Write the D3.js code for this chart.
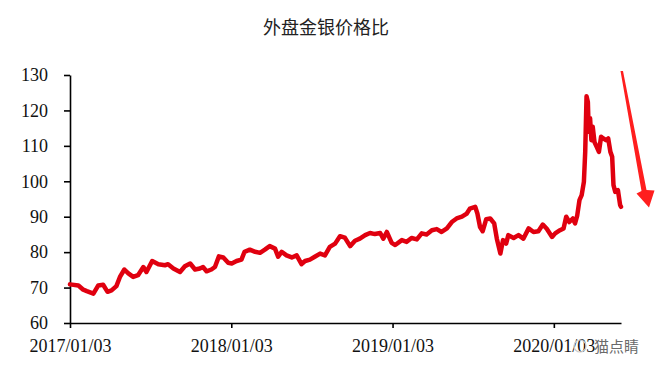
<!DOCTYPE html>
<html>
<head>
<meta charset="utf-8">
<script src="https://cdn.jsdelivr.net/npm/d3@7/dist/d3.min.js"></script>
<style>
  body { margin: 0; background: #fff; }
</style>
</head>
<body>
<div id="chart"></div>
<script>
// gold / silver price ratio
var dates = [
  "2017-01-03","2017-01-22","2017-02-02","2017-02-10","2017-02-25","2017-03-08","2017-03-19","2017-03-29",
  "2017-04-07","2017-04-18","2017-04-26","2017-05-06","2017-05-15","2017-05-26","2017-06-06","2017-06-18",
  "2017-06-25","2017-07-08","2017-07-22","2017-08-06","2017-08-13","2017-08-25","2017-09-09","2017-09-20",
  "2017-10-02","2017-10-13","2017-10-24","2017-10-31","2017-11-08","2017-11-19","2017-11-27","2017-12-06",
  "2017-12-16","2017-12-27",
  "2018-01-04","2018-01-15","2018-01-26","2018-02-02","2018-02-14","2018-02-26","2018-03-09","2018-03-20",
  "2018-03-31","2018-04-12","2018-04-19","2018-04-27","2018-05-08","2018-05-20","2018-05-31","2018-06-11",
  "2018-06-19","2018-06-30","2018-07-11","2018-07-23","2018-08-03","2018-08-14","2018-08-26","2018-09-06",
  "2018-09-17","2018-09-29","2018-10-10","2018-10-21","2018-11-02","2018-11-13","2018-11-24","2018-12-06",
  "2018-12-13","2018-12-21",
  "2019-01-01","2019-01-09","2019-01-24","2019-02-04","2019-02-15","2019-02-27","2019-03-10","2019-03-21",
  "2019-04-02","2019-04-13","2019-04-24","2019-05-06","2019-05-17","2019-05-28","2019-06-09","2019-06-20",
  "2019-06-27","2019-07-09","2019-07-14","2019-07-20","2019-07-26","2019-08-03","2019-08-12","2019-08-21",
  "2019-08-27","2019-09-04","2019-09-10","2019-09-17","2019-09-22","2019-10-04","2019-10-15","2019-10-26",
  "2019-11-07","2019-11-18","2019-11-29","2019-12-09","2019-12-18","2019-12-30",
  "2020-01-06","2020-01-17","2020-01-25","2020-01-31","2020-02-07","2020-02-15","2020-02-20","2020-02-25",
  "2020-03-01","2020-03-06","2020-03-11","2020-03-14","2020-03-17","2020-03-20","2020-03-22","2020-03-25",
  "2020-03-28","2020-03-31","2020-04-04","2020-04-09","2020-04-14","2020-04-19","2020-04-24","2020-04-30",
  "2020-05-05","2020-05-10","2020-05-14","2020-05-17","2020-05-21","2020-05-27","2020-06-01","2020-06-03"
];
var ratio = [
  70.9,70.6,69.4,69.0,68.3,70.6,70.8,68.8,
  69.2,70.4,73.0,75.1,74.0,73.0,73.5,75.8,
  74.4,77.5,76.6,76.3,76.6,75.4,74.4,76.0,
  76.8,75.1,75.4,75.8,74.6,75.1,75.8,78.8,
  78.5,77.0,
  76.8,77.5,77.9,80.1,80.7,80.1,79.8,80.7,
  81.7,81.0,78.7,80.1,79.1,78.5,79.1,76.6,
  77.5,77.9,78.7,79.6,79.1,81.5,82.4,84.5,
  84.1,81.7,83.2,83.8,84.8,85.4,85.1,85.4,
  83.8,85.7,
  82.6,82.0,83.4,82.9,84.0,83.6,85.3,85.0,
  86.2,86.5,85.7,86.7,88.5,89.5,90.0,90.9,
  92.3,92.8,90.9,87.1,85.9,89.3,89.5,88.1,
  83.8,79.6,83.4,82.4,84.8,84.0,84.8,83.8,
  86.7,85.7,85.9,87.8,86.6,84.3,
  85.3,86.2,86.7,90.0,88.5,89.5,88.1,90.4,
  94.7,96.1,99.8,108.3,124.0,122.4,114.0,117.8,
  111.6,115.4,111.1,109.7,108.3,112.6,112.1,111.6,
  112.1,108.3,106.9,98.9,97.0,97.5,93.3,92.8
];
var yTicks = [60, 70, 80, 90, 100, 110, 120, 130];
var xTickDates = ["2017-01-03", "2018-01-03", "2019-01-03", "2020-01-03"];
var xTickLabels = ["2017/01/03", "2018/01/03", "2019/01/03", "2020/01/03"];
var title = "外盘金银价格比";

var width = 664;
var height = 373;
var mLeft = 70, mRight = 621, mTop = 75, mBottom = 323;

var parse = d3.timeParse("%Y-%m-%d");
var data = dates.map(function(d, i) { return { date: parse(d), value: ratio[i] }; });

var svg = d3.select('#chart')
  .append('svg')
  .attr('width', width)
  .attr('height', height);

var x = d3.scaleTime()
  .domain(d3.extent(data, function(d) { return d.date; }))
  .range([mLeft, mRight]);
var y = d3.scaleLinear()
  .domain([60, 130])
  .range([mBottom, mTop]);

// title
svg.append('text')
  .attr('x', 326)
  .attr('y', 34)
  .attr('text-anchor', 'middle')
  .style('font-family', '"Noto Sans CJK SC", sans-serif')
  .style('font-size', '18px')
  .attr('fill', '#222')
  .text(title);

svg.append('g')
  .attr('transform', 'translate(' + mLeft + ',0)')
  .call(d3.axisLeft(y).tickValues(yTicks).tickSize(6).tickSizeOuter(0).tickPadding(16));

svg.append('g')
  .attr('transform', 'translate(0,' + mBottom + ')')
  .call(d3.axisBottom(x)
    .tickValues(xTickDates.map(parse))
    .tickFormat(function(d, i) { return xTickLabels[i]; })
    .tickSize(5).tickSizeOuter(0).tickPadding(11));

svg.selectAll('.tick text')
  .style('font-family', '"Liberation Serif", "Times New Roman", serif')
  .style('font-size', '18px')
  .attr('fill', '#111');
svg.selectAll('.domain, .tick line')
  .attr('stroke', '#000')
  .attr('stroke-width', 1.6);

// ratio line
var line = d3.line()
  .x(function(d) { return x(d.date); })
  .y(function(d) { return y(d.value); });

svg.append('path')
  .datum(data)
  .attr('d', line)
  .attr('fill', 'none')
  .attr('stroke', '#e0000f')
  .attr('stroke-width', 4.5)
  .attr('stroke-linejoin', 'round')
  .attr('stroke-linecap', 'round');

// hand-drawn downward arrow annotation
svg.append('path')
  .attr('d', 'M620.5,71 L623,71 L646.5,190 L654.5,190.5 L649,207.5 L636.5,193.5 L641.5,191 Z')
  .attr('fill', '#ff1e1e');

// watermark
svg.append('circle')
  .attr('cx', 580)
  .attr('cy', 346)
  .attr('r', 6)
  .attr('fill', 'none')
  .attr('stroke', '#cccccc')
  .attr('stroke-width', 1.2);
svg.append('text')
  .attr('x', 594)
  .attr('y', 352)
  .style('font-family', '"Noto Sans CJK SC", sans-serif')
  .style('font-size', '15px')
  .attr('fill', '#6a6a6a')
  .text('猫点睛');
</script>
</body>
</html>
